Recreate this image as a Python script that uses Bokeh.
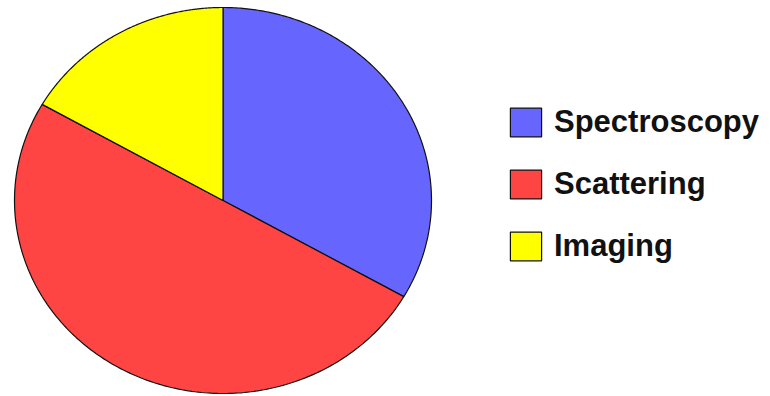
import numpy as np
from bokeh.plotting import figure
from bokeh.models import Range1d, Legend, LegendItem, ColumnDataSource
from bokeh.embed import file_html
from bokeh.resources import INLINE

categories = ["Spectroscopy", "Scattering", "Imaging"]
values = [33.3, 50.0, 16.7]
colors = ["#6666FF", "#FF4444", "#FFFF00"]

# screen geometry (pixels)
W, H = 770, 396
RX, RY = 208.5, 193.0
CX, CY = 222.5, 196.0  # centre in plot pixels (from left, from bottom)

p = figure(width=W, height=H, output_backend="svg", toolbar_location=None,
           x_range=Range1d(-CX / RX, (W - CX) / RX),
           y_range=Range1d(-CY / RY, (H - CY) / RY),
           min_border=0)
p.axis.visible = False
p.grid.visible = False
p.outline_line_color = None
p.background_fill_color = "white"

total = float(sum(values))
start = np.pi / 2
xs, ys = [], []
for v in values:
    sweep = 2 * np.pi * v / total
    t = np.linspace(start, start - sweep, 200)
    xs.append(np.concatenate([[0.0], np.cos(t), [0.0]]).tolist())
    ys.append(np.concatenate([[0.0], np.sin(t), [0.0]]).tolist())
    start -= sweep

items = []
for i, c in enumerate(categories):
    src = ColumnDataSource(dict(xs=[xs[i]], ys=[ys[i]]))
    r = p.patches("xs", "ys", source=src, fill_color=colors[i],
                  line_color="#111111", line_width=1.2)
    items.append(LegendItem(label=c, renderers=[r]))

legend = Legend(items=items, location=(506, 132),
                glyph_width=39, glyph_height=36,
                label_text_font="Liberation Sans", label_text_font_style="bold",
                label_text_font_size="31px", label_text_color="#111111",
                label_standoff=9, spacing=26, padding=0, margin=0,
                border_line_color=None, background_fill_alpha=0)
p.add_layout(legend, "center")

open("out.html", "w").write(file_html(p, INLINE))
